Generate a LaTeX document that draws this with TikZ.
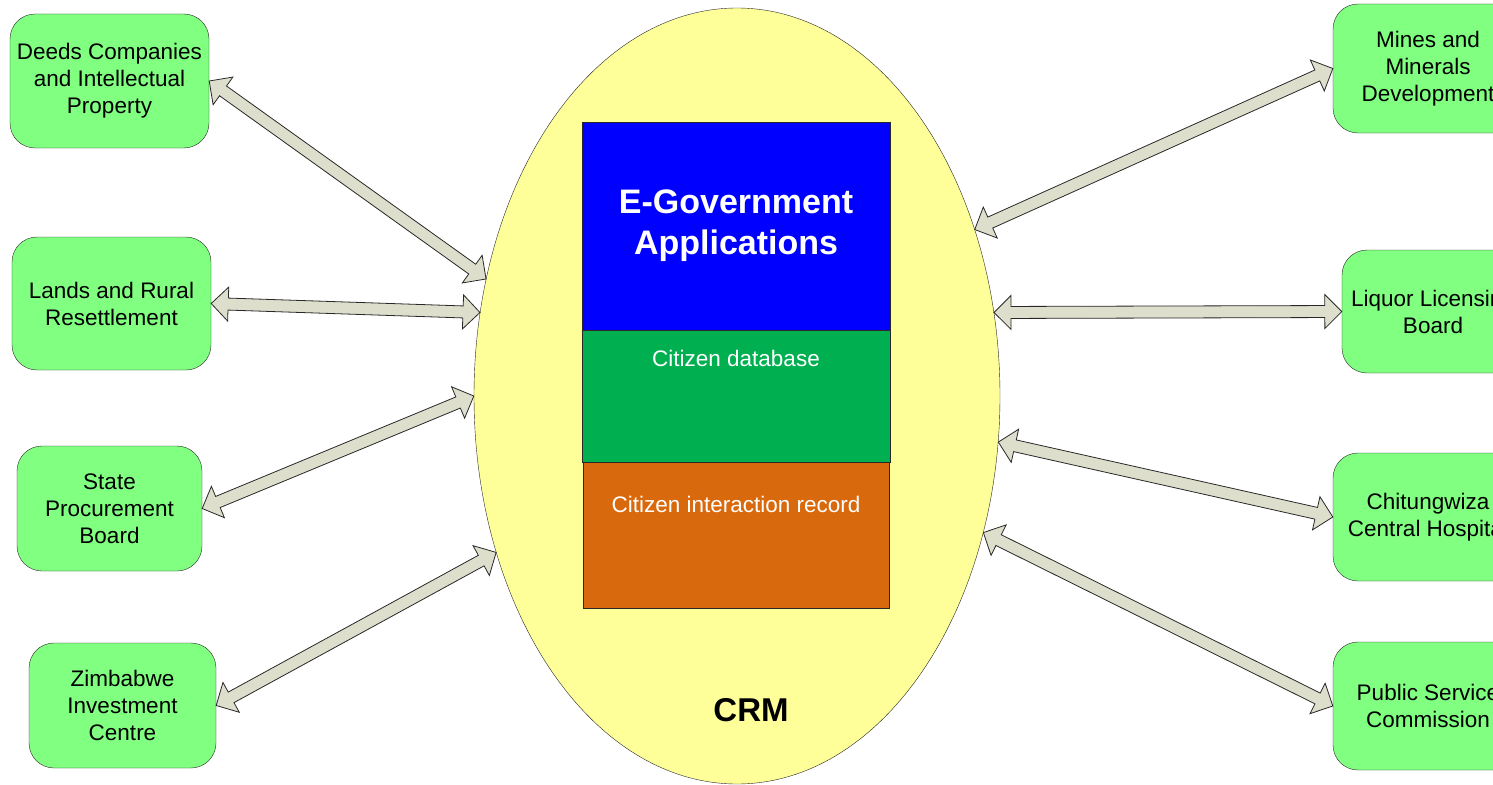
\documentclass[tikz,border=0pt]{standalone}
\usepackage{fontspec}
\setmainfont{Liberation Sans}
\usetikzlibrary{calc,shapes.geometric,positioning}
\definecolor{boxgreen}{RGB}{128,255,128}
\definecolor{crmyellow}{RGB}{255,255,153}
\definecolor{appblue}{RGB}{0,0,255}
\definecolor{dbgreen}{RGB}{0,176,80}
\definecolor{recorange}{RGB}{217,105,13}
\definecolor{flowfill}{RGB}{221,222,204}
\definecolor{edgegray}{RGB}{40,40,40}
\tikzset{agency/.style = {draw=edgegray, fill=boxgreen, rounded corners=25pt, align=center,
    inner sep=0, font=\fontsize{22.5}{27}\selectfont}}
\tikzset{layer/.style = {draw=edgegray, line width=0.6pt, inner sep=0, minimum width=308pt}}
\tikzset{flow/.style = {draw=edgegray, fill=flowfill, line width=0.8pt, line join=miter}}
\tikzset{celltext/.style = {text=white, inner sep=0, font=\fontsize{22.5}{27}\selectfont}}
\newcommand{\dblarrow}[2]{%
  \coordinate (ha) at ($(#1)!17pt!(#2)$);
  \coordinate (hb) at ($(#2)!17pt!(#1)$);
  \draw [flow] (#1) -- ($(ha)!17pt!90:(#2)$) -- ($(ha)!6pt!90:(#2)$)
    -- ($(hb)!6pt!-90:(#1)$) -- ($(hb)!17pt!-90:(#1)$) -- (#2)
    -- ($(hb)!17pt!90:(#1)$) -- ($(hb)!6pt!90:(#1)$)
    -- ($(ha)!6pt!-90:(#2)$) -- ($(ha)!17pt!-90:(#2)$) -- cycle;
}

\begin{document}
\begin{tikzpicture}[x=1pt, y=-1pt]
    \useasboundingbox (0,0) rectangle (1493,784);
    \clip (0,0) rectangle (1493,784);
    \fill [white] (0,0) rectangle (1493,784);
    % CRM core
    \node [ellipse, draw=edgegray, fill=crmyellow, minimum width=526pt, minimum height=776pt, inner sep=0] (crm) at (737,396) {};
    \node [layer, fill=appblue, minimum height=208pt, text=white, align=center,
           font=\fontsize{34}{41}\selectfont\bfseries] (apps) at (736,226) {E-Government\\Applications};
    \node [layer, fill=dbgreen, minimum height=132pt] (db) at (736,396) {};
    \node [layer, fill=recorange, minimum height=146pt, minimum width=306pt] (rec) at (736,535) {};
    \node [celltext] (dbtext) at (736,358) {Citizen database};
    \node [celltext] (rectext) at (736,504) {Citizen interaction record};
    \node [font=\fontsize{33}{38}\selectfont\bfseries] (crmtext) at (751,710) {CRM};
    % left agencies
    \node [agency, minimum width=199pt, minimum height=134pt] (deeds) at (109.5,81) {Deeds Companies\\and Intellectual\\Property};
    \node [agency, minimum width=199pt, minimum height=133pt] (lands) at (111.5,303.5) {Lands and Rural\\Resettlement};
    \node [agency, minimum width=185pt, minimum height=125pt] (spb) at (109.5,508.5) {State\\Procurement\\Board};
    \node [agency, minimum width=187pt, minimum height=125pt] (zic) at (122.5,705.5) {Zimbabwe\\Investment\\Centre};
    % right agencies
    \node [agency, minimum width=190pt, minimum height=129pt] (mines) at (1428,68.5) {Mines and\\Minerals\\Development};
    \node [agency, minimum width=182pt, minimum height=123pt] (liquor) at (1433,311.5) {Liquor Licensing\\Board};
    \node [agency, minimum width=190pt, minimum height=128pt] (hosp) at (1428,517) {Chitungwiza\\Central Hospital};
    \node [agency, minimum width=190pt, minimum height=128pt] (psc) at (1428,706) {Public Service\\Commission};
    % links
    \dblarrow{deeds.east}{crm.155}
    \dblarrow{lands.east}{crm.162}
    \dblarrow{spb.east}{crm.180}
    \dblarrow{zic.east}{crm.213}
    \dblarrow{crm.35}{mines.west}
    \dblarrow{crm.18}{liquor.west}
    \dblarrow{crm.350}{hosp.west}
    \dblarrow{crm.331}{psc.west}
\end{tikzpicture}
\end{document}
